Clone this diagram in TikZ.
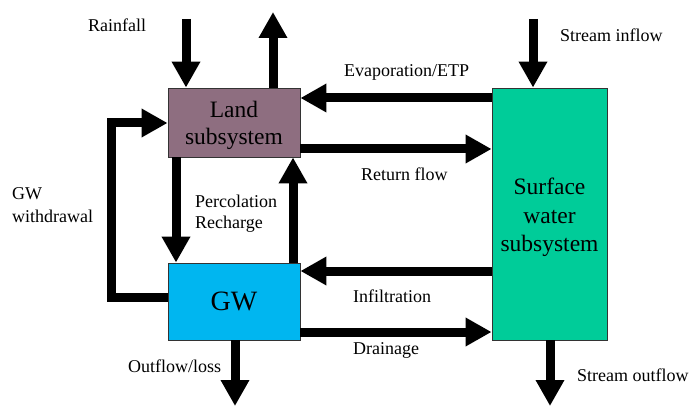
\documentclass[tikz,border=0pt]{standalone}
\usepackage{fontspec}
\setmainfont{Liberation Serif}
\usetikzlibrary{arrows.meta}
\definecolor{landfill}{HTML}{8E6E80}
\definecolor{gwfill}{HTML}{00B6F0}
\definecolor{swfill}{HTML}{00CC99}
\tikzset{
  box/.style={draw=black!80, line width=0.8pt, inner sep=0pt, align=center},
  boxtext/.style={inner sep=0pt, align=center},
  flow/.style={line width=9pt, -{Triangle[width=27pt,length=26pt]}, line join=miter},
  lbl/.style={anchor=base west, inner sep=0pt, font=\fontsize{18}{21}\selectfont, align=left}
}
\begin{document}
\begin{tikzpicture}[x=1pt,y=-1pt]
\useasboundingbox[fill=white] (0,0) rectangle (690,406);

% subsystems
\node[box, fill=landfill, minimum width=132pt, minimum height=69pt] (land) at (234,122.5) {};
\node[boxtext, font=\fontsize{23.5}{27}\selectfont] (landtxt) at ([yshift=-3pt]land.center) {Land\\subsystem};
\node[box, fill=gwfill, minimum width=132pt, minimum height=77pt,
      font=\fontsize{28}{32}\selectfont] (gw) at (234,301.5) {GW};
\node[box, fill=swfill, minimum width=115pt, minimum height=252pt] (sw) at (549.5,214) {};
\node[boxtext, font=\fontsize{23.5}{28.5}\selectfont] (swtxt) at ([yshift=-3.5pt]sw.center) {Surface\\water\\subsystem};

% free ends and flow levels
\coordinate (rainTop) at (186,19);
\coordinate (etTop) at (273,12);
\coordinate (inTop) at (533,19);
\coordinate (outBot) at (550,406);
\coordinate (lossBot) at (235,406);
\coordinate (evY) at (0,98);
\coordinate (retY) at (0,149);
\coordinate (infY) at (0,271);
\coordinate (drY) at (0,332);
\coordinate (percX) at (176,0);
\coordinate (rechX) at (293,0);
\coordinate (wdA) at (111,297);
\coordinate (wdB) at (111,123);

% flows
\draw[flow] (rainTop) -- (rainTop |- land.north);
\draw[flow] (etTop |- land.north) -- (etTop);
\draw[flow] (inTop) -- (inTop |- sw.north);
\draw[flow] (outBot |- sw.south) -- (outBot);
\draw[flow] (lossBot |- gw.south) -- (lossBot);
\draw[flow] (sw.west |- evY) -- (land.east |- evY);
\draw[flow] (land.east |- retY) -- (sw.west |- retY);
\draw[flow] (sw.west |- infY) -- (gw.east |- infY);
\draw[flow] (gw.east |- drY) -- (sw.west |- drY);
\draw[flow] (percX |- land.south) -- (percX |- gw.north);
\draw[flow] (rechX |- gw.north) -- (rechX |- land.south);
\draw[flow] (gw.west |- wdA) -- (wdA) -- (wdB) -- (land.west |- wdB);

% labels
\node[lbl] (lrain) at (88,32) {Rainfall};
\node[lbl] (lin) at (560,42) {Stream inflow};
\node[lbl] (lev) at (344,77) {Evaporation/ETP};
\node[lbl] (lret) at (361,181) {Return flow};
\node[lbl] (linf) at (353,302) {Infiltration};
\node[lbl] (ldr) at (353,354) {Drainage};
\node[lbl] (lout) at (577,381) {Stream outflow};
\node[lbl] (lloss) at (128,372) {Outflow/loss};
\node[lbl] (lperc) at (195,207) {Percolation};
\node[lbl] (lrech) at (195,228) {Recharge};
\node[lbl] (lgw) at (12,200) {GW};
\node[lbl] (lwd) at (12,222) {withdrawal};
\end{tikzpicture}
\end{document}
